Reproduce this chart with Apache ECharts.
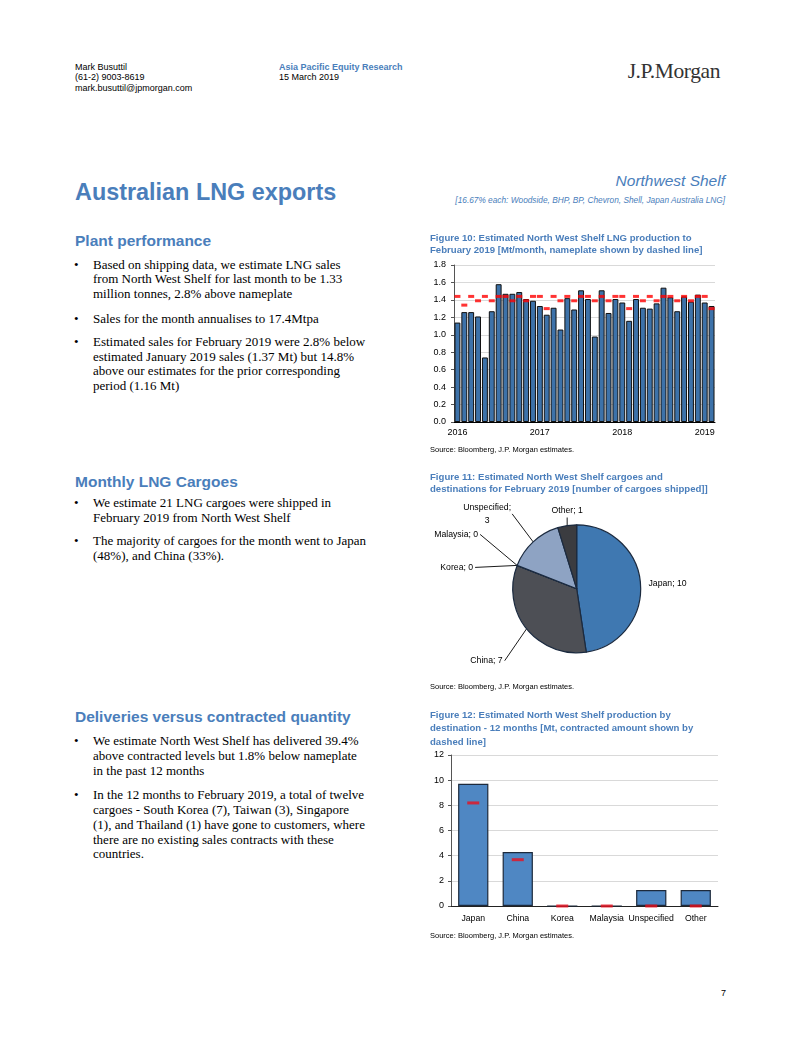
<!DOCTYPE html>
<html>
<head>
<meta charset="utf-8">
<script src="https://cdn.jsdelivr.net/npm/echarts@6/dist/echarts.min.js"></script>
<style>
html,body{margin:0;padding:0;background:#fff;}
#page{position:relative;width:802px;height:1037px;overflow:hidden;font-family:'Liberation Sans',Arial,sans-serif;color:#000;}
.t{position:absolute;white-space:nowrap;}
.blue{color:#4a7ebb;}
.hd{position:absolute;white-space:nowrap;color:#4a7ebb;font-weight:bold;font-size:15.5px;line-height:18px;left:75px;}
.bul{position:absolute;left:74px;white-space:nowrap;font-family:'Liberation Serif','Times New Roman',serif;font-size:13px;line-height:14.8px;}
.bul .dot{position:absolute;left:0;top:0;}
.bul .txt{position:absolute;left:19px;top:0;}
.chart{position:absolute;}
</style>
</head>
<body>
<div id="page">
  <div class="t" style="left:75px;top:61.75px;font-size:9px;line-height:10.5px;">Mark Busuttil<br>(61-2) 9003-8619<br>mark.busuttil@jpmorgan.com</div>
  <div class="t" style="left:279px;top:61.75px;font-size:9px;line-height:10.5px;"><span class="blue" style="font-weight:bold;">Asia Pacific Equity Research</span><br>15 March 2019</div>
  <div class="t" style="right:82px;top:61px;font-family:'Liberation Serif','Times New Roman',serif;font-size:21.5px;line-height:21px;color:#333;letter-spacing:-0.4px;">J.P.Morgan</div>

  <div class="t blue" style="right:77px;top:172px;font-size:15.5px;line-height:18px;font-style:italic;">Northwest Shelf</div>
  <div class="t blue" style="right:77px;top:195px;font-size:8.3px;line-height:10px;font-style:italic;">[16.67% each: Woodside, BHP, BP, Chevron, Shell, Japan Australia LNG]</div>
  <div class="t blue" style="left:75px;top:179px;font-size:23.4px;line-height:26px;font-weight:bold;">Australian LNG exports</div>

  <div class="hd" style="top:232px;">Plant performance</div>
  <div class="bul" style="top:257.6px;"><span class="dot">•</span><span class="txt">Based on shipping data, we estimate LNG sales<br>from North West Shelf for last month to be 1.33<br>million tonnes, 2.8% above nameplate</span></div>
  <div class="bul" style="top:311.9px;"><span class="dot">•</span><span class="txt">Sales for the month annualises to 17.4Mtpa</span></div>
  <div class="bul" style="top:334.9px;"><span class="dot">•</span><span class="txt">Estimated sales for February 2019 were 2.8% below<br>estimated January 2019 sales (1.37 Mt) but 14.8%<br>above our estimates for the prior corresponding<br>period (1.16 Mt)</span></div>

  <div class="hd" style="top:472.7px;">Monthly LNG Cargoes</div>
  <div class="bul" style="top:495.9px;"><span class="dot">•</span><span class="txt">We estimate 21 LNG cargoes were shipped in<br>February 2019 from North West Shelf</span></div>
  <div class="bul" style="top:534.3px;"><span class="dot">•</span><span class="txt">The majority of cargoes for the month went to Japan<br>(48%), and China (33%).</span></div>

  <div class="hd" style="top:708.3px;">Deliveries versus contracted quantity</div>
  <div class="bul" style="top:734.3px;"><span class="dot">•</span><span class="txt">We estimate North West Shelf has delivered 39.4%<br>above contracted levels but 1.8% below nameplate<br>in the past 12 months</span></div>
  <div class="bul" style="top:788.3px;"><span class="dot">•</span><span class="txt">In the 12 months to February 2019, a total of twelve<br>cargoes - South Korea (7), Taiwan (3), Singapore<br>(1), and Thailand (1) have gone to customers, where<br>there are no existing sales contracts with these<br>countries.</span></div>

  <div class="t" style="right:76px;top:988px;font-size:9px;line-height:10px;">7</div>

  <div id="c1" class="chart" style="left:420px;top:230px;width:310px;height:230px;"></div>
  <div id="c2" class="chart" style="left:420px;top:470px;width:310px;height:230px;"></div>
  <div id="c3" class="chart" style="left:420px;top:700px;width:310px;height:245px;"></div>
</div>
<script>
// ---------- Figure 10 data ----------
const months = ['2016-01','2016-02','2016-03','2016-04','2016-05','2016-06','2016-07','2016-08','2016-09','2016-10','2016-11','2016-12',
  '2017-01','2017-02','2017-03','2017-04','2017-05','2017-06','2017-07','2017-08','2017-09','2017-10','2017-11','2017-12',
  '2018-01','2018-02','2018-03','2018-04','2018-05','2018-06','2018-07','2018-08','2018-09','2018-10','2018-11','2018-12',
  '2019-01','2019-02'];
const production = [1.14,1.26,1.26,1.21,0.74,1.27,1.58,1.47,1.47,1.49,1.41,1.39,
  1.33,1.23,1.31,1.06,1.42,1.29,1.51,1.41,0.98,1.51,1.25,1.41,
  1.37,1.16,1.41,1.31,1.30,1.36,1.54,1.43,1.27,1.44,1.38,1.46,
  1.37,1.33];
const nameplate = [1.44,1.34,1.44,1.39,1.44,1.39,1.44,1.44,1.39,1.44,1.39,1.44,
  1.44,1.30,1.44,1.39,1.44,1.39,1.44,1.44,1.39,1.44,1.39,1.44,
  1.44,1.30,1.44,1.39,1.44,1.39,1.44,1.44,1.39,1.44,1.39,1.44,
  1.44,1.30];

// ---------- Figure 11 data ----------
const pieNames = ['Japan','China','Korea','Malaysia','Unspecified','Other'];
const pieValues = [10,7,0,0,3,1];

// ---------- Figure 12 data ----------
const destCats = ['Japan','China','Korea','Malaysia','Unspecified','Other'];
const delivered = [9.72,4.29,0,0,1.27,1.27];
const contracted = [8.19,3.68,0,0,0,0];

const FONT = "'Liberation Sans', Arial, sans-serif";
const TITLE_COLOR = '#4a7ebb';
const SOURCE = 'Source: Bloomberg, J.P. Morgan estimates.';

function titleOpt(text, top, lh){
  return {text: text, left: 10, top: top, padding: 0,
    textStyle: {fontFamily: FONT, fontSize: 9.6, fontWeight: 'bold', color: TITLE_COLOR, lineHeight: lh}};
}
function sourceGraphic(y){
  return [{type: 'text', left: 10, top: y - 4.5, style: {text: SOURCE, font: '7.5px ' + FONT, fill: '#000'}}];
}

// ---------- Chart 1 ----------
const c1 = echarts.init(document.getElementById('c1'), null, {renderer: 'canvas'});
c1.setOption({
  animation: false,
  title: titleOpt('Figure 10: Estimated North West Shelf LNG production to\nFebruary 2019 [Mt/month, nameplate shown by dashed line]', 2.3, 11.7),
  graphic: sourceGraphic(220),
  grid: {left: 34, right: 15, top: 35, bottom: 38},
  xAxis: {
    type: 'category', data: months,
    axisLine: {lineStyle: {color: '#000', width: 1}},
    axisTick: {interval: function(i){ return i % 12 === 0; }, length: 4, lineStyle: {color: '#000'}},
    axisLabel: {interval: function(i){ return i % 12 === 0; }, formatter: function(v){ return v.slice(0,4); },
      margin: 6, fontFamily: FONT, fontSize: 9, color: '#000'}
  },
  yAxis: {
    type: 'value', min: 0, max: 1.8, interval: 0.2,
    axisLine: {show: true, lineStyle: {color: '#555'}},
    axisTick: {show: true, length: 3, lineStyle: {color: '#555'}},
    axisLabel: {formatter: function(v){ return v.toFixed(1); }, margin: 8, fontFamily: FONT, fontSize: 9, color: '#000'},
    splitLine: {lineStyle: {color: '#d9d9d9', width: 1}}
  },
  series: [
    {type: 'bar', data: production, barCategoryGap: '14%',
      itemStyle: {color: '#3d72a9', borderColor: '#111', borderWidth: 1}},
    {type: 'scatter', data: nameplate, symbol: 'rect', symbolSize: [6, 3], z: 5,
      itemStyle: {color: '#ff0000'}}
  ]
});

// ---------- Chart 2 (pie) ----------
const pieCx = 156.7, pieCy = 118.8, pieR = 64;
const pieColors = ['#3f78b1','#4d4f55','#5a6a80','#6f84a0','#8ea3c3','#3b3c40'];
// label placement relative to each slice's outer mid-point (style only)
const pieLabelPlacement = [
  {lineTo: null, dx: 8, dy: 0, align: 'left'},
  {lineTo: [-22, 32], dx: -2, dy: 0, align: 'right'},
  {lineTo: [-42, 2], dx: -2, dy: 0, align: 'right'},
  {lineTo: [-37, -31], dx: -2, dy: 0, align: 'right'},
  {lineTo: [-21, -28], dx: -25, dy: 0, align: 'center'},
  {lineTo: [0, -8], dx: 0, dy: -7, align: 'center'}
];
const pieTotal = pieValues.reduce(function(a, b){ return a + b; }, 0);
function sliceEdge(i){
  let before = 0;
  for (let j = 0; j < i; j++) before += pieValues[j];
  const mid = (before + pieValues[i] / 2) / pieTotal * Math.PI * 2;
  return [pieCx + pieR * Math.sin(mid), pieCy - pieR * Math.cos(mid)];
}
const c2 = echarts.init(document.getElementById('c2'), null, {renderer: 'canvas'});
c2.setOption({
  animation: false,
  title: titleOpt('Figure 11: Estimated North West Shelf cargoes and\ndestinations for February 2019 [number of cargoes shipped]]', 1.5, 11.7),
  graphic: sourceGraphic(217),
  series: [{
    type: 'pie', center: [pieCx, pieCy], radius: pieR, startAngle: 90, clockwise: true,
    avoidLabelOverlap: false, minShowLabelAngle: 0,
    itemStyle: {borderColor: '#1b2a3f', borderWidth: 1.2},
    label: {show: true, position: 'outside', formatter: '{b}; {c}', fontFamily: FONT, fontSize: 8.7, color: '#000', lineHeight: 13},
    labelLine: {show: true, length: 5, length2: 5, lineStyle: {color: '#000', width: 0.9}},
    labelLayout: function(p){
      const i = p.dataIndex;
      const pl = pieLabelPlacement[i];
      const s = sliceEdge(i);
      const e = pl.lineTo ? [s[0] + pl.lineTo[0], s[1] + pl.lineTo[1]] : s;
      const out = {x: e[0] + pl.dx, y: e[1] + pl.dy, align: pl.align, verticalAlign: 'middle'};
      if (pl.lineTo) out.labelLinePoints = [s, e, e];
      return out;
    },
    data: pieNames.map(function(n, i){
      const d = {name: n, value: pieValues[i], itemStyle: {color: pieColors[i]}};
      if (n === 'Japan') d.labelLine = {show: false};
      if (n === 'Unspecified') d.label = {formatter: '{b};\n{c}', align: 'center'};
      return d;
    })
  }]
});

// ---------- Chart 3 ----------
const c3 = echarts.init(document.getElementById('c3'), null, {renderer: 'canvas'});
c3.setOption({
  animation: false,
  title: titleOpt('Figure 12: Estimated North West Shelf production by\ndestination - 12 months [Mt, contracted amount shown by\ndashed line]', 8.1, 13.8),
  graphic: sourceGraphic(236.5),
  grid: {left: 31, right: 12, top: 55, bottom: 39},
  xAxis: {
    type: 'category', data: destCats,
    axisLine: {lineStyle: {color: '#222', width: 1}},
    axisTick: {length: 3, lineStyle: {color: '#222'}},
    axisLabel: {interval: 0, margin: 8, fontFamily: FONT, fontSize: 8.7, color: '#000'}
  },
  yAxis: {
    type: 'value', min: 0, max: 12, interval: 2,
    axisLine: {show: true, lineStyle: {color: '#555'}},
    axisTick: {show: true, length: 3, lineStyle: {color: '#555'}},
    axisLabel: {margin: 7, fontFamily: FONT, fontSize: 9, color: '#000'},
    splitLine: {lineStyle: {color: '#d9d9d9', width: 1}}
  },
  series: [
    {type: 'bar', data: delivered, barWidth: '68%',
      itemStyle: {color: '#4f87c3', borderColor: '#1d2a3c', borderWidth: 1.2}},
    {type: 'scatter', data: contracted, symbol: 'rect', symbolSize: [12, 3], z: 5,
      itemStyle: {color: '#e8101e'}}
  ]
});
</script>
</body>
</html>
